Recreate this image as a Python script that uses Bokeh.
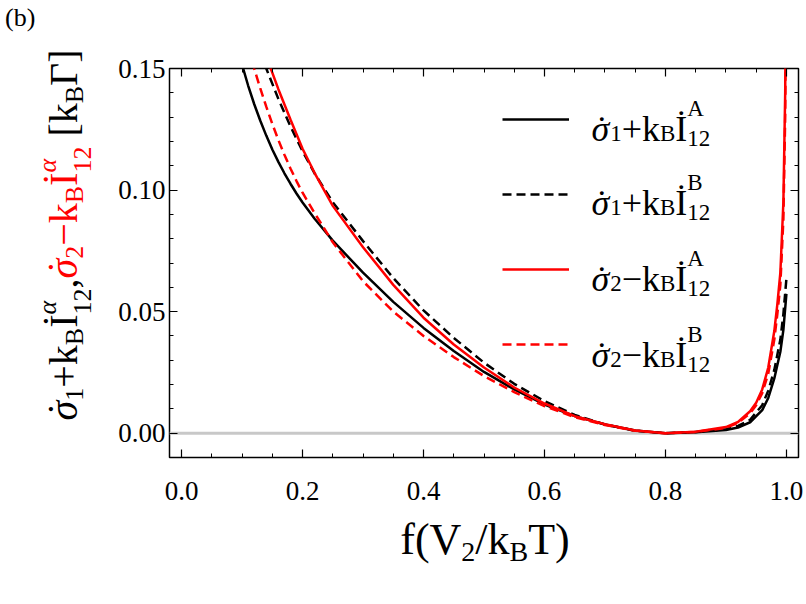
import math
from bokeh.plotting import figure
from bokeh.layouts import column
from bokeh.models import (Range1d, LinearAxis, FixedTicker, NumeralTickFormatter,
                          Span, Label, Legend, LegendItem, Div)
from bokeh.embed import file_html
from bokeh.resources import INLINE

# ---------------- data ----------------
x_bs = [0.10, 0.11, 0.12, 0.13, 0.14, 0.15, 0.16, 0.17, 0.18, 0.19, 0.20, 0.22, 0.25, 0.30,
        0.35, 0.40, 0.45, 0.50, 0.55, 0.60, 0.65, 0.70, 0.75, 0.80, 0.85, 0.90, 0.92, 0.94,
        0.96, 0.97, 0.98, 0.99, 0.995, 1.0]
y_bs = [0.1515, 0.1430, 0.1354, 0.1286, 0.1224, 0.1167, 0.1116, 0.1069, 0.1026, 0.0986, 0.0949,
        0.0882, 0.0792, 0.0660, 0.0540, 0.0433, 0.0338, 0.0252, 0.0180, 0.0118, 0.0070, 0.0036,
        0.0011, 0.0000, 0.0004, 0.0013, 0.0023, 0.0045, 0.0095, 0.0145, 0.0225, 0.0335, 0.0425,
        0.0573]

x_bd = [0.13, 0.14, 0.16, 0.18, 0.20, 0.22, 0.25, 0.30, 0.35, 0.40, 0.45, 0.50, 0.55, 0.60,
        0.65, 0.70, 0.75, 0.80, 0.85, 0.90, 0.92, 0.94, 0.96, 0.97, 0.98, 0.99, 0.995, 1.0]
y_bd = [0.1570, 0.1500, 0.1375, 0.1262, 0.1160, 0.1068, 0.0950, 0.0790, 0.0638, 0.0505, 0.0392,
        0.0290, 0.0203, 0.0132, 0.0075, 0.0036, 0.0010, 0.0000, 0.0005, 0.0016, 0.0030, 0.0055,
        0.0115, 0.0175, 0.0260, 0.0385, 0.0490, 0.0635]

x_rs = [0.14, 0.16, 0.18, 0.20, 0.22, 0.25, 0.30, 0.35, 0.40, 0.45, 0.50, 0.55, 0.60, 0.65,
        0.70, 0.75, 0.80, 0.85, 0.90, 0.92, 0.94, 0.95, 0.96, 0.97, 0.98, 0.985, 0.99, 0.995,
        0.998, 0.999]
y_rs = [0.1550, 0.1415, 0.1290, 0.1170, 0.1070, 0.0935, 0.0765, 0.0610, 0.0475, 0.0365, 0.0270,
        0.0188, 0.0122, 0.0070, 0.0037, 0.0011, 0.0000, 0.0006, 0.0025, 0.0046, 0.0090, 0.0125,
        0.0180, 0.0270, 0.0420, 0.0530, 0.0660, 0.0950, 0.1400, 0.1800]

x_rd = [0.11, 0.12, 0.13, 0.14, 0.15, 0.16, 0.17, 0.18, 0.19, 0.20, 0.22, 0.25, 0.30, 0.35,
        0.40, 0.45, 0.50, 0.55, 0.60, 0.65, 0.70, 0.75, 0.80, 0.85, 0.90, 0.92, 0.94, 0.95,
        0.96, 0.97, 0.98, 0.985, 0.99, 0.995, 0.998, 0.999]
y_rd = [0.1585, 0.1500, 0.1419, 0.1343, 0.1272, 0.1206, 0.1145, 0.1089, 0.1037, 0.0989, 0.0905,
        0.0785, 0.0625, 0.0500, 0.0400, 0.0313, 0.0235, 0.0169, 0.0111, 0.0066, 0.0034, 0.0010,
        0.0000, 0.0005, 0.0022, 0.0042, 0.0082, 0.0115, 0.0165, 0.0245, 0.0385, 0.0490, 0.0610,
        0.0880, 0.1300, 0.1700]

x_ticks = [0.0, 0.2, 0.4, 0.6, 0.8, 1.0]
x_minor = [0.05, 0.1, 0.15, 0.25, 0.3, 0.35, 0.45, 0.5, 0.55, 0.65, 0.7, 0.75, 0.85, 0.9, 0.95]
y_ticks = [0.0, 0.05, 0.10, 0.15]
y_minor = [0.01, 0.02, 0.03, 0.04, 0.06, 0.07, 0.08, 0.09, 0.11, 0.12, 0.13, 0.14]

FONT = "Liberation Serif"
RED = "#ff0000"

# ---------------- figure ----------------
p = figure(width=806, height=604, output_backend="svg", toolbar_location=None,
           x_range=Range1d(-0.02, 1.02), y_range=Range1d(-0.01, 0.15),
           min_border_left=169, min_border_right=8, min_border_top=68, min_border_bottom=147)
p.xgrid.visible = False
p.ygrid.visible = False
p.outline_line_color = "black"
p.outline_line_width = 1.5
p.outline_line_alpha = 1.0
p.background_fill_color = "white"
p.border_fill_color = "white"


def style_axis(ax, ticks, minor, fmt, show_labels):
    ax.ticker = FixedTicker(ticks=ticks, minor_ticks=minor)
    ax.formatter = NumeralTickFormatter(format=fmt)
    ax.axis_line_color = None
    ax.major_tick_in = 8
    ax.major_tick_out = 0
    ax.minor_tick_in = 4
    ax.minor_tick_out = 0
    ax.major_tick_line_color = "black"
    ax.minor_tick_line_color = "black"
    ax.major_tick_line_width = 1.2
    ax.minor_tick_line_width = 1.0
    ax.major_label_text_font = FONT
    if show_labels:
        ax.major_label_text_font_size = "27px"
        ax.major_label_text_color = "black"
    else:
        ax.major_label_text_font_size = "1px"
        ax.major_label_text_color = None
        ax.major_label_standoff = 0


style_axis(p.xaxis[0], x_ticks, x_minor, "0.0", True)
p.xaxis[0].major_label_standoff = 24
style_axis(p.yaxis[0], y_ticks, y_minor, "0.00", True)
p.yaxis[0].major_label_standoff = 4

top_ax = LinearAxis()
style_axis(top_ax, x_ticks, x_minor, "0.0", False)
p.add_layout(top_ax, "above")
right_ax = LinearAxis()
style_axis(right_ax, y_ticks, y_minor, "0.00", False)
p.add_layout(right_ax, "right")

zero = Span(location=0.0, dimension="width", line_color="#c8c8c8", line_width=3, level="underlay")
p.add_layout(zero)

r_bs = p.line(x_bs, y_bs, line_color="black", line_width=2.5)
r_bd = p.line(x_bd, y_bd, line_color="black", line_width=2.5, line_dash="9 5")
r_rs = p.line(x_rs, y_rs, line_color=RED, line_width=2.5)
r_rd = p.line(x_rd, y_rd, line_color=RED, line_width=2.5, line_dash="9 5")

legend = Legend(items=[LegendItem(label=" ", renderers=[r]) for r in (r_bs, r_bd, r_rs, r_rd)],
                location=(333, 103), orientation="vertical", glyph_width=67, glyph_height=20,
                label_height=20, spacing=55, padding=0, margin=0, border_line_color=None,
                background_fill_alpha=0, label_text_font_size="1px", label_standoff=0)
p.add_layout(legend)

# ---------------- legend texts (inside the frame, SVG text) ----------------
EM = {'σ': 0.52, 'α': 0.52, '1': 0.5, '2': 0.5, '+': 0.564, '−': 0.564, 'k': 0.5, 'B': 0.667,
      'İ': 0.333, 'A': 0.722}


def tw(s, size):
    return sum(EM.get(c, 0.5) for c in s) * size


def rich(ax, ay, ox, oy, parts, M, S):
    adv = 0.0
    for part in parts:
        kind = part["k"]
        color = part.get("c", "black")
        if kind == "M":
            items = [(part["t"], M, 0.0, 0.0, False)]
            width = tw(part["t"], M)
        elif kind == "dotsig":
            items = [("σ", M, 0.0, 0.0, True), ("˙", M, 0.0, 0.12 * M, False)]
            width = tw("σ", M)
        elif kind == "sub":
            items = [(part["t"], S, -0.13 * M, 0.0, False)]
            width = tw(part["t"], S)
        else:
            items = [(part["sup"], S, 0.55 * M, 0.0, False),
                     (part["sub"], S, -0.28 * M, 0.0, False)]
            width = max(tw(part["sup"], S), tw(part["sub"], S))
        for txt, size, dy, dx, ital in items:
            p.add_layout(Label(x=ax, y=ay, x_units="data", y_units="data",
                               x_offset=ox + adv + dx, y_offset=oy + dy, text=txt,
                               text_font=FONT, text_font_size=f"{size}px",
                               text_font_style="italic" if ital else "normal",
                               text_color=color, text_align="left",
                               text_baseline="alphabetic"))
        adv += width


X0, Y1 = -0.02, 0.15
leg_parts = [
    [{"k": "dotsig"}, {"k": "sub", "t": "1"}, {"k": "M", "t": "+k"},
     {"k": "sub", "t": "B"}, {"k": "M", "t": "İ"}, {"k": "ss", "sup": "A", "sub": "12"}],
    [{"k": "dotsig"}, {"k": "sub", "t": "1"}, {"k": "M", "t": "+k"},
     {"k": "sub", "t": "B"}, {"k": "M", "t": "İ"}, {"k": "ss", "sup": "B", "sub": "12"}],
    [{"k": "dotsig"}, {"k": "sub", "t": "2"}, {"k": "M", "t": "−k"},
     {"k": "sub", "t": "B"}, {"k": "M", "t": "İ"}, {"k": "ss", "sup": "A", "sub": "12"}],
    [{"k": "dotsig"}, {"k": "sub", "t": "2"}, {"k": "M", "t": "−k"},
     {"k": "sub", "t": "B"}, {"k": "M", "t": "İ"}, {"k": "ss", "sup": "B", "sub": "12"}],
]
for parts, oy in zip(leg_parts, [-60, -134, -210, -286]):
    rich(X0, Y1, 422, oy, parts, 36, 23)

# ---------------- axis titles and tag (HTML overlay) ----------------
ASC = 0.8375   # nominal baseline inside a line-height:1 box
DX, DY = 5, 6  # measured offset of the overlay content


def h_sub(t, M, S, drop=0.15):
    return f'<span style="font-size:{S}px;position:relative;top:{drop * M:.1f}px">{t}</span>'


def h_stack(sup, sb, M, S, italic_sup=False):
    st = "font-style:italic;" if italic_sup else ""
    top = -0.52 * M + 0.0535 * S
    return (f'<span style="position:relative;font-size:{S}px">'
            f'<span style="position:absolute;left:0px;top:{top:.1f}px;{st}">{sup}</span>'
            f'<span style="position:relative;top:{0.35 * M:.1f}px">{sb}</span></span>')


def h_dsig(M):
    return (f'<span style="position:relative;font-style:italic">σ'
            f'<span style="position:absolute;left:{0.12 * M:.1f}px;top:1px;font-style:normal">˙</span></span>')


MY, SY = 40, 26
ytitle = (h_dsig(MY) + h_sub("1", MY, SY) + "+k" + h_sub("B", MY, SY) + "İ"
          + h_stack("α", "12", MY, SY, True) + ","
          + f'<span style="color:{RED}">' + h_dsig(MY) + h_sub("2", MY, SY) + "−k"
          + h_sub("B", MY, SY) + "İ" + h_stack("α", "12", MY, SY, True) + "</span>"
          + " [k" + h_sub("B", MY, SY) + "Γ]")
MX, SX = 44, 28
xtitle = "f(V" + h_sub("2", MX, SX) + "/k" + h_sub("B", MX, SX) + "T)"

base = f"position:absolute;white-space:nowrap;font-family:'{FONT}';line-height:1;color:black;"
html = (
    f'<div style="{base}left:72px;top:{415 - ASC * MY:.1f}px;font-size:{MY}px;'
    f'transform-origin:0px {ASC * MY:.1f}px;transform:rotate(-90deg)">{ytitle}</div>'
    f'<div style="{base}left:{485 - DX}px;top:{556 - DY - ASC * MX:.1f}px;font-size:{MX}px;'
    f'transform:translateX(-50%)">{xtitle}</div>'
    f'<div style="{base}left:0px;top:0px;font-size:26px">(b)</div>'
)
overlay = Div(text=html, width=806, height=604,
              styles={"position": "absolute", "left": "0px", "top": "0px",
                      "pointer-events": "none", "overflow": "visible"})

layout = column(p, overlay)
open("out.html", "w").write(file_html(layout, INLINE))
